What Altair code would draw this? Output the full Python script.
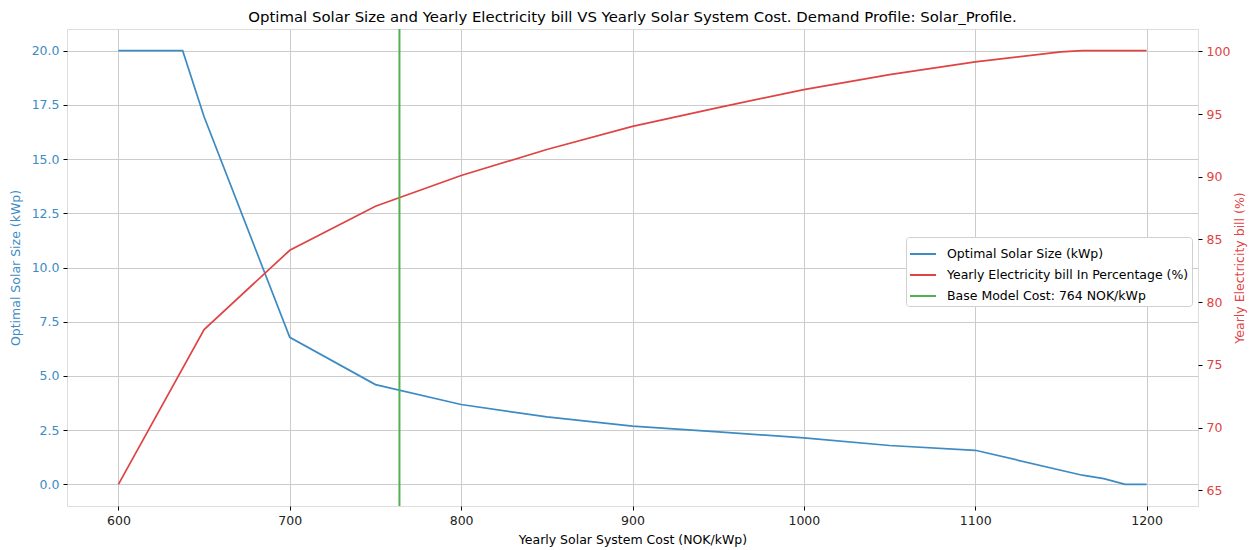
import altair as alt
import pandas as pd

# ---- data ----
blue_x = [600, 637.5, 650, 700, 750, 800, 850, 900, 950, 1000, 1050, 1100, 1162.5, 1175, 1187.5, 1200]
blue_y = [20.0, 20.0, 16.95, 6.78, 4.6, 3.68, 3.11, 2.68, 2.42, 2.14, 1.79, 1.57, 0.42, 0.26, 0.0, 0.0]

red_x = [600, 650, 700, 750, 800, 850, 900, 950, 1000, 1050, 1100, 1150, 1162.5, 1200]
red_y = [65.48, 77.82, 84.14, 87.65, 90.10, 92.17, 94.02, 95.51, 96.95, 98.14, 99.16, 99.95, 100.05, 100.05]

base_cost = [764]

series_names = [
    "Optimal Solar Size (kWp)",
    "Yearly Electricity bill In Percentage (%)",
    "Base Model Cost: 764 NOK/kWp",
]
series_colors = ["#3d8bc4", "#df4343", "#52b052"]

x_ticks = [600, 700, 800, 900, 1000, 1100, 1200]
left_ticks = [0, 2.5, 5, 7.5, 10, 12.5, 15, 17.5, 20]
right_ticks = [65, 70, 75, 80, 85, 90, 95, 100]

FONT = "DejaVu Sans"
FS = 12.5

blue_df = pd.DataFrame({"cost": blue_x, "val": blue_y, "series": series_names[0]})
red_df = pd.DataFrame({"cost": red_x, "val": red_y, "series": series_names[1]})
base_df = pd.DataFrame({"cost": base_cost, "series": series_names[2]})

color = alt.Color(
    "series:N",
    scale=alt.Scale(domain=series_names, range=series_colors),
    sort=series_names,
    title=None,
    legend=alt.Legend(
        orient="none",
        legendX=839,
        legendY=208,
        symbolType="stroke",
        symbolSize=676,
        symbolStrokeWidth=2,
        labelFont=FONT,
        labelFontSize=FS,
        labelColor="#000",
        labelLimit=500,
        labelOffset=10,
        rowPadding=-6,
        padding=3,
        fillColor="white",
        strokeColor="#d0d0d0",
        cornerRadius=3,
    ),
)

common_axis = dict(
    labelFont=FONT,
    titleFont=FONT,
    labelFontSize=FS,
    titleFontSize=FS,
    titleFontWeight="normal",
    domain=False,
    tickColor="#000",
    tickSize=4,
)

x_enc = alt.X(
    "cost:Q",
    scale=alt.Scale(domain=[570, 1230], nice=False, zero=False),
    axis=alt.Axis(
        values=x_ticks,
        format="d",
        title="Yearly Solar System Cost (NOK/kWp)",
        grid=True,
        gridColor="#cccccc",
        labelPadding=4,
        titlePadding=7,
        labelColor="#222",
        titleColor="#000",
        **common_axis,
    ),
)

blue = alt.Chart(blue_df).mark_line(strokeWidth=1.7).encode(
    x=x_enc,
    y=alt.Y(
        "val:Q",
        scale=alt.Scale(domain=[-1, 21], nice=False, zero=False),
        axis=alt.Axis(
            orient="left",
            values=left_ticks,
            format=".1f",
            title="Optimal Solar Size (kWp)",
            grid=True,
            gridColor="#cccccc",
            labelPadding=4,
            titlePadding=9,
            labelColor=series_colors[0],
            titleColor=series_colors[0],
            **common_axis,
        ),
    ),
    color=color,
)

red = alt.Chart(red_df).mark_line(strokeWidth=1.7).encode(
    x=x_enc,
    y=alt.Y(
        "val:Q",
        scale=alt.Scale(domain=[63.75, 101.78], nice=False, zero=False),
        axis=alt.Axis(
            orient="right",
            values=right_ticks,
            format="d",
            title="Yearly Electricity bill (%)",
            titleAngle=270,
            grid=False,
            labelPadding=4,
            titlePadding=17,
            labelColor=series_colors[1],
            titleColor=series_colors[1],
            **common_axis,
        ),
    ),
    color=color,
)

base = alt.Chart(base_df).mark_rule(strokeWidth=2).encode(
    x=x_enc,
    color=color,
)

chart = (
    alt.layer(blue, red, base)
    .resolve_scale(y="independent")
    .properties(
        width=1131,
        height=477,
        padding={"left": 67, "top": 29, "right": 55, "bottom": 43},
        autosize=alt.AutoSizeParams(type="none"),
        title=alt.TitleParams(
            "Optimal Solar Size and Yearly Electricity bill VS Yearly Solar System Cost. Demand Profile: Solar_Profile.",
            font=FONT,
            fontSize=14.9,
            fontWeight="normal",
            color="#000",
            anchor="middle",
            offset=3,
        ),
    )
    .configure_view(stroke="#222", strokeWidth=1)
    .configure(background="white")
)

chart.save("out.html", embed_options={"renderer": "svg", "actions": False})
